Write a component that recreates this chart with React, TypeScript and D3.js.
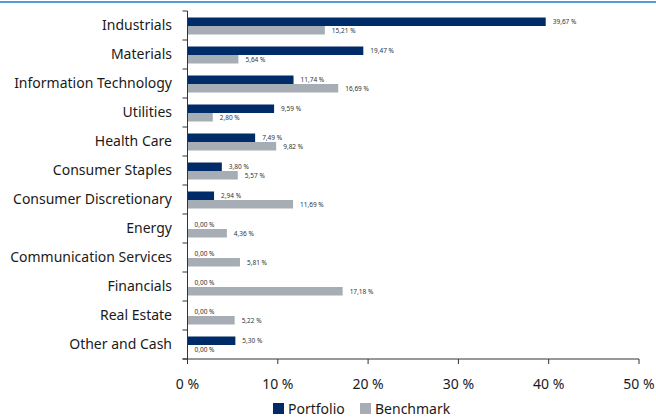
import React from "react";
import * as d3 from "d3";

const categories = [
  "Industrials",
  "Materials",
  "Information Technology",
  "Utilities",
  "Health Care",
  "Consumer Staples",
  "Consumer Discretionary",
  "Energy",
  "Communication Services",
  "Financials",
  "Real Estate",
  "Other and Cash",
];
const portfolio = [39.67, 19.47, 11.74, 9.59, 7.49, 3.8, 2.94, 0, 0, 0, 0, 5.3];
const benchmark = [15.21, 5.64, 16.69, 2.8, 9.82, 5.57, 11.69, 4.36, 5.81, 17.18, 5.22, 0];
const xTicks = [0, 10, 20, 30, 40, 50];
const seriesNames = ["Portfolio", "Benchmark"];

const W = 656;
const H = 418;
const C_PORT = "#002b69";
const C_BENCH = "#a6adb4";
const FONT = "'Noto Sans', 'Open Sans', sans-serif";

const fmt = (v: number) => v.toFixed(2).replace(".", ",") + " %";

export default function App() {
  const x = d3.scaleLinear().domain([0, 50]).range([187.5, 639]);
  const y = d3.scaleBand().domain(categories).range([11, 359]);
  const bw = y.bandwidth();
  const barH = 8.5;
  const axisColor = "#333";
  return (
    <svg
      width={W}
      height={H}
      style={{ position: "absolute", left: 0, top: 0, fontFamily: FONT }}
    >
      <rect x={0} y={0} width={W} height={H} fill="#fff" />
      <line x1={0} x2={W} y1={2} y2={2} stroke="#1a7cc6" strokeWidth={1.5} />
      {categories.map((c, i) => {
        const y0 = y(c)! + bw / 2 + 0.5;
        const pv = portfolio[i];
        const bv = benchmark[i];
        return (
          <g key={c}>
            <text
              x={172}
              y={y0 - 1.5}
              textAnchor="end"
              dominantBaseline="central"
              fontSize={14}
              fill="#1a1a1a"
            >
              {c}
            </text>
            <rect x={x(0)} y={y0 - barH} width={x(pv) - x(0)} height={barH} fill={C_PORT} />
            <rect x={x(0)} y={y0} width={x(bv) - x(0)} height={barH} fill={C_BENCH} />
            <text
              x={x(pv) + 7}
              y={y0 - barH / 2 - 0.5}
              dominantBaseline="central"
              fontSize={6.5}
              fill="#333"
            >
              {fmt(pv)}
            </text>
            <text
              x={x(bv) + 7}
              y={y0 + barH / 2 + 0.5}
              dominantBaseline="central"
              fontSize={6.5}
              fill="#333"
            >
              {fmt(bv)}
            </text>
          </g>
        );
      })}
      {/* y axis */}
      <line x1={x(0)} x2={x(0)} y1={11} y2={359} stroke={axisColor} strokeWidth={1} />
      {d3.range(categories.length + 1).map((i) => {
        const yy = 11 + i * bw;
        return <line key={i} x1={x(0) - 5} x2={x(0)} y1={yy} y2={yy} stroke={axisColor} strokeWidth={1} />;
      })}
      {/* x axis */}
      <line x1={x(0) - 5} x2={x(50)} y1={359} y2={359} stroke={axisColor} strokeWidth={1} />
      {xTicks.map((t) => (
        <g key={t}>
          <line x1={x(t)} x2={x(t)} y1={359} y2={364} stroke={axisColor} strokeWidth={1} />
          <text x={x(t)} y={383} textAnchor="middle" dominantBaseline="central" fontSize={14} fill="#1a1a1a">
            {t + " %"}
          </text>
        </g>
      ))}
      {/* legend */}
      <g>
        <rect x={273} y={403} width={11} height={11} fill={C_PORT} />
        <text x={288} y={408.5} dominantBaseline="central" fontSize={14} fill="#1a1a1a">
          {seriesNames[0]}
        </text>
        <rect x={360} y={403} width={11} height={11} fill={C_BENCH} />
        <text x={375} y={408.5} dominantBaseline="central" fontSize={14} fill="#1a1a1a">
          {seriesNames[1]}
        </text>
      </g>
    </svg>
  );
}
